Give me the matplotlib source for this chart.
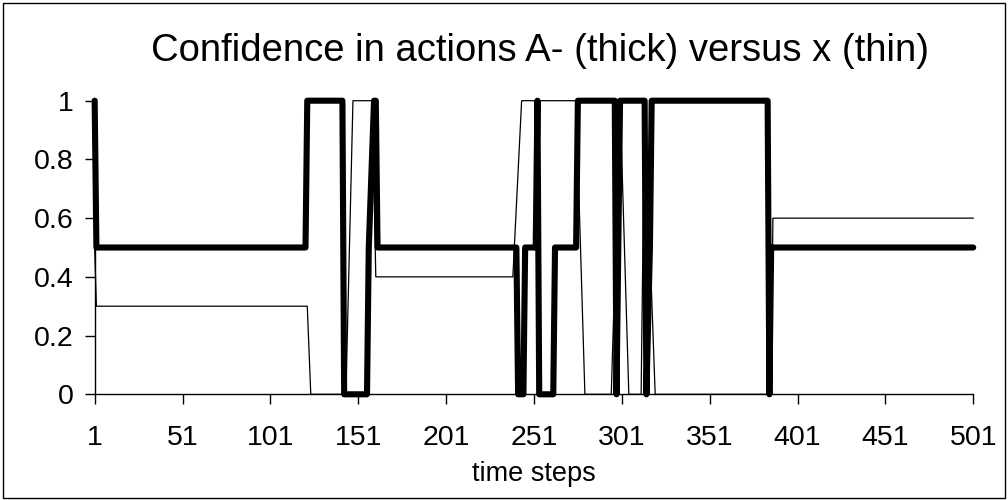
import matplotlib
matplotlib.use("Agg")
import matplotlib.pyplot as plt
from matplotlib.patches import Rectangle

# Breakpoints (time step, confidence) of each series; line connects consecutive points
thick_steps = [1, 2, 121, 122, 142, 143, 156, 157, 160, 161, 162, 241, 242, 245, 246,
               252, 253, 254, 262, 263, 275, 276, 297, 298, 300, 314, 315, 317, 318,
               384, 385, 386, 501]
thick_vals = [1, 0.5, 0.5, 1, 1, 0, 0, 0.5, 1, 1, 0.5, 0.5, 0, 0, 0.5,
              0.5, 1, 0, 0, 0.5, 0.5, 1, 1, 0, 1, 1, 0, 0.5, 1,
              1, 0, 0.5, 0.5]

thin_steps = [1, 2, 122, 124, 144, 148, 159, 161, 239, 244, 275, 280, 295, 300, 305,
              312, 314, 320, 386, 387, 501]
thin_vals = [0.5, 0.3, 0.3, 0, 0, 1, 1, 0.4, 0.4, 1, 1, 0, 0, 1, 0,
             0, 1, 0, 0, 0.6, 0.6]

x_ticks = [1, 51, 101, 151, 201, 251, 301, 351, 401, 451, 501]
y_ticks = [0, 0.2, 0.4, 0.6, 0.8, 1]
y_labels = ["0", "0.2", "0.4", "0.6", "0.8", "1"]

plt.rcParams['font.family'] = ['Liberation Sans', 'DejaVu Sans']

fig = plt.figure(figsize=(10.08, 5.0), dpi=100)
fig.patches.append(Rectangle((0.003, 0.005), 0.994, 0.99, transform=fig.transFigure,
                             fill=False, edgecolor='black', linewidth=1.0))
ax = fig.add_axes([0.0939, 0.2114, 0.8716, 0.5872])

ax.plot(thin_steps, thin_vals, color='black', linewidth=0.9, clip_on=False,
        solid_joinstyle='miter')
ax.plot(thick_steps, thick_vals, color='black', linewidth=4.4, clip_on=False,
        solid_joinstyle='round', solid_capstyle='round')

ax.set_xlim(1, 501)
ax.set_ylim(0, 1)
ax.set_xticks(x_ticks)
ax.set_xticklabels([str(t) for t in x_ticks])
ax.set_yticks(y_ticks)
ax.set_yticklabels(y_labels)
for s in ['top', 'right']:
    ax.spines[s].set_visible(False)
for s in ['left', 'bottom']:
    ax.spines[s].set_linewidth(1.0)
    ax.spines[s].set_color('black')
ax.tick_params(axis='both', direction='out', length=7, width=1.0, labelsize=20.5,
               colors='black')
ax.tick_params(axis='x', pad=15)
ax.tick_params(axis='y', pad=8)
ax.set_xlabel('time steps', fontsize=19.5, labelpad=7)
fig.text(0.5357, 1 - 60.7 / 500, 'Confidence in actions A- (thick) versus x (thin)',
         ha='center', va='baseline', fontsize=27.5)

fig.savefig('out.png', dpi=100)
